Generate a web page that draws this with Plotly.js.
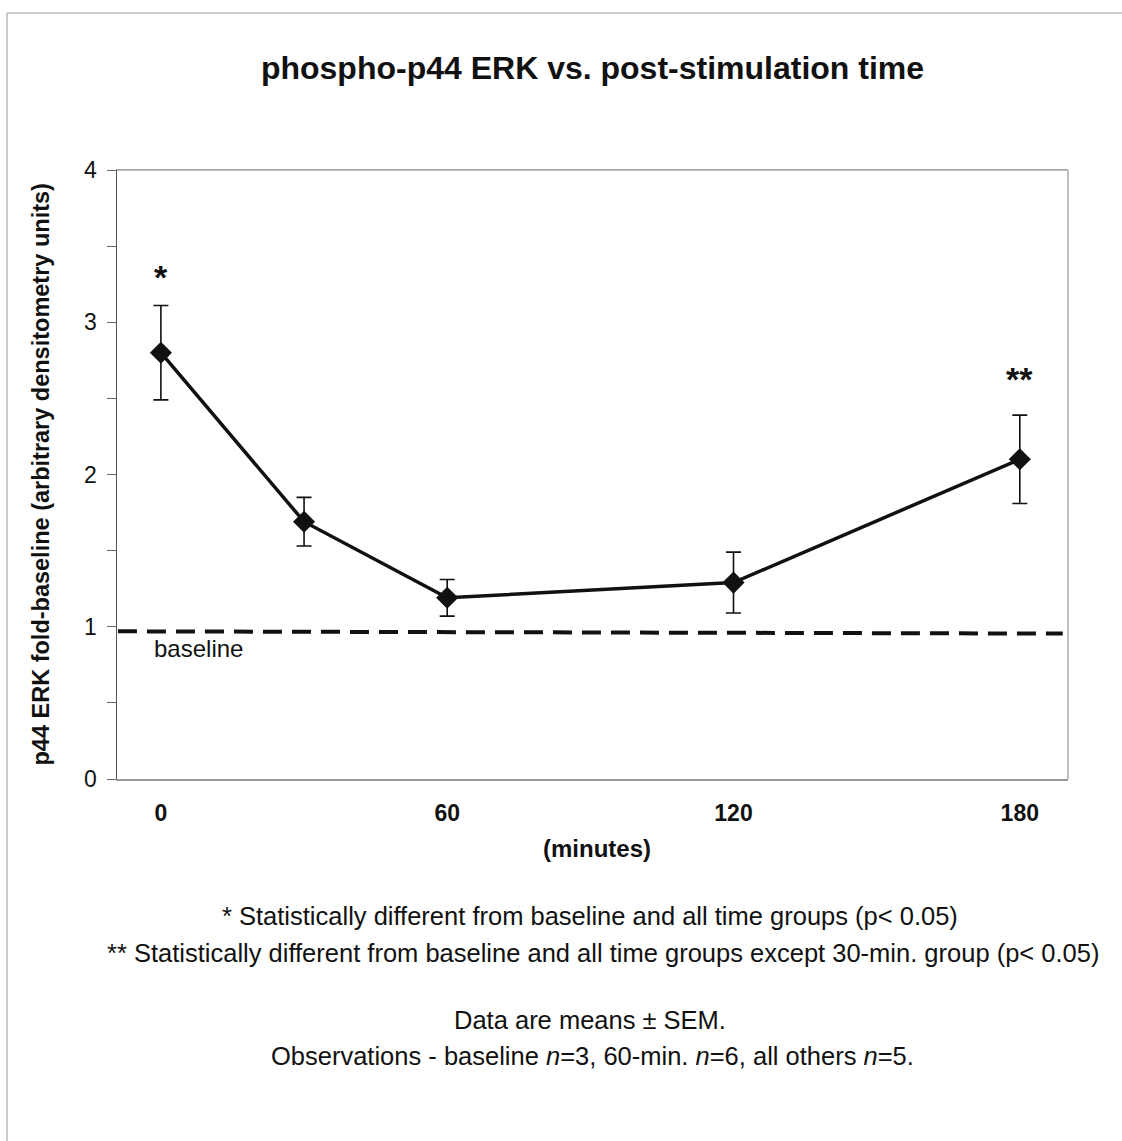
<!DOCTYPE html>
<html>
<head>
<meta charset="utf-8">
<script src="https://cdn.plot.ly/plotly-3.0.1.min.js"></script>
<style>
  html, body { margin: 0; padding: 0; background: #fff; }
  #chart { width: 1122px; height: 1141px; }
</style>
</head>
<body>
<div id="chart"></div>
<script>
// ---- data ----
const timeMinutes = [0, 30, 60, 120, 180];
const meanFold = [2.80, 1.69, 1.19, 1.29, 2.10];
const semFold = [0.31, 0.16, 0.12, 0.20, 0.29];
const baselineX = [-9, 189];
const baselineY = [0.97, 0.955];
const xTickVals = [0, 60, 120, 180];
const xTickText = ['0', '60', '120', '180'];
const yTickVals = [0, 1, 2, 3, 4];
const starLabels = [
  {x: 0, y: 3.30, text: '*'},
  {x: 180, y: 2.63, text: '**'}
];
const footnotes = [
  '* Statistically different from baseline and all time groups (p< 0.05)',
  '** Statistically different from baseline and all time groups except 30-min. group (p< 0.05)',
  'Data are means \u00b1 SEM.',
  'Observations - baseline <i>n</i>=3, 60-min. <i>n</i>=6, all others <i>n</i>=5.'
];
const footnoteY = [916, 953, 1020, 1056];
const footnoteX = [590, 603, 590, 592];

// ---- geometry ----
const W = 1122, H = 1141;
const L = 117, R = 1068, T = 170, B = 779;
const pw = R - L, ph = B - T;
const px2paperX = p => (p - L) / pw;
const px2paperY = p => (B - p) / ph;

const FONT = '"Liberation Sans", Arial, sans-serif';

const traces = [
  {
    x: baselineX, y: baselineY, mode: 'lines', type: 'scatter',
    line: {color: '#111', width: 4, dash: '19px,10px'},
    hoverinfo: 'skip', showlegend: false
  },
  {
    x: timeMinutes, y: meanFold, mode: 'lines+markers', type: 'scatter',
    line: {color: '#111', width: 3.5},
    marker: {symbol: 'diamond', size: 17, color: '#111'},
    error_y: {type: 'data', array: semFold, visible: true, color: '#111', thickness: 1.6, width: 7.5},
    showlegend: false
  }
];

const annotations = [];
starLabels.forEach(s => annotations.push({
  x: s.x, y: s.y, xref: 'x', yref: 'y', xanchor: 'center', yanchor: 'middle',
  text: '<b>' + s.text + '</b>', showarrow: false,
  font: {family: FONT, size: 34, color: '#111'}
}));
annotations.push({
  x: -1.9, y: 0.86, xref: 'x', yref: 'y', xanchor: 'left', yanchor: 'middle',
  text: 'baseline', showarrow: false,
  font: {family: FONT, size: 24, color: '#111'}
});
annotations.push({
  x: px2paperX(40), y: 0.5, xref: 'paper', yref: 'paper', xanchor: 'center', yanchor: 'middle',
  textangle: -90,
  text: '<b>p44 ERK fold-baseline (arbitrary densitometry units)</b>', showarrow: false,
  font: {family: FONT, size: 23.5, color: '#111'}
});
annotations.push({
  x: px2paperX(597), y: px2paperY(848), xref: 'paper', yref: 'paper', xanchor: 'center', yanchor: 'middle',
  text: '<b>(minutes)</b>', showarrow: false,
  font: {family: FONT, size: 24, color: '#111'}
});
footnotes.forEach((t, i) => annotations.push({
  x: px2paperX(footnoteX[i]), y: px2paperY(footnoteY[i]), xref: 'paper', yref: 'paper',
  xanchor: 'center', yanchor: 'middle',
  text: t, showarrow: false,
  font: {family: FONT, size: 25.5, color: '#111'}
}));

const layout = {
  width: W, height: H,
  margin: {l: L, r: W - R, t: T, b: H - B, pad: 0},
  paper_bgcolor: '#fff', plot_bgcolor: '#fff',
  title: {
    text: '<b>phospho-p44 ERK vs. post-stimulation time</b>',
    x: 0.5, xref: 'paper', y: 1 - 68 / H, yref: 'container', yanchor: 'middle',
    font: {family: FONT, size: 32, color: '#111'}
  },
  xaxis: {
    range: [-9.2, 190.1], tickvals: xTickVals, ticktext: xTickText,
    ticks: '', showgrid: false, zeroline: false,
    showline: true, linecolor: '#999', linewidth: 1.5, mirror: true,
    tickfont: {family: FONT, size: 23, color: '#111', weight: 'bold'},
    ticklabelstandoff: 13
  },
  yaxis: {
    range: [0, 4], tickvals: yTickVals,
    ticks: 'outside', ticklen: 9, tickcolor: '#666', tickwidth: 1,
    minor: {dtick: 0.5, tick0: 0, ticks: 'outside', ticklen: 9, tickcolor: '#666', tickwidth: 1, showgrid: false},
    showgrid: false, zeroline: false,
    showline: true, linecolor: '#555', linewidth: 1.5,
    tickfont: {family: FONT, size: 23, color: '#111'},
    ticklabelstandoff: 5
  },
  shapes: [
    {type: 'line', xref: 'paper', yref: 'paper', x0: 1, x1: 1, y0: 0, y1: 1, line: {color: '#aaa', width: 1.5}},
    {type: 'line', xref: 'paper', yref: 'paper', x0: 0, x1: 1, y0: 1, y1: 1, line: {color: '#aaa', width: 1.5}},
    {type: 'line', xref: 'paper', yref: 'paper', x0: px2paperX(7), x1: px2paperX(W + 5), y0: px2paperY(13), y1: px2paperY(13), line: {color: '#bbb', width: 1.5}},
    {type: 'line', xref: 'paper', yref: 'paper', x0: px2paperX(7), x1: px2paperX(7), y0: px2paperY(13), y1: px2paperY(H + 5), line: {color: '#bbb', width: 1.5}}
  ],
  annotations: annotations,
  showlegend: false
};

Plotly.newPlot('chart', traces, layout, {displayModeBar: false, staticPlot: true});
</script>
</body>
</html>
